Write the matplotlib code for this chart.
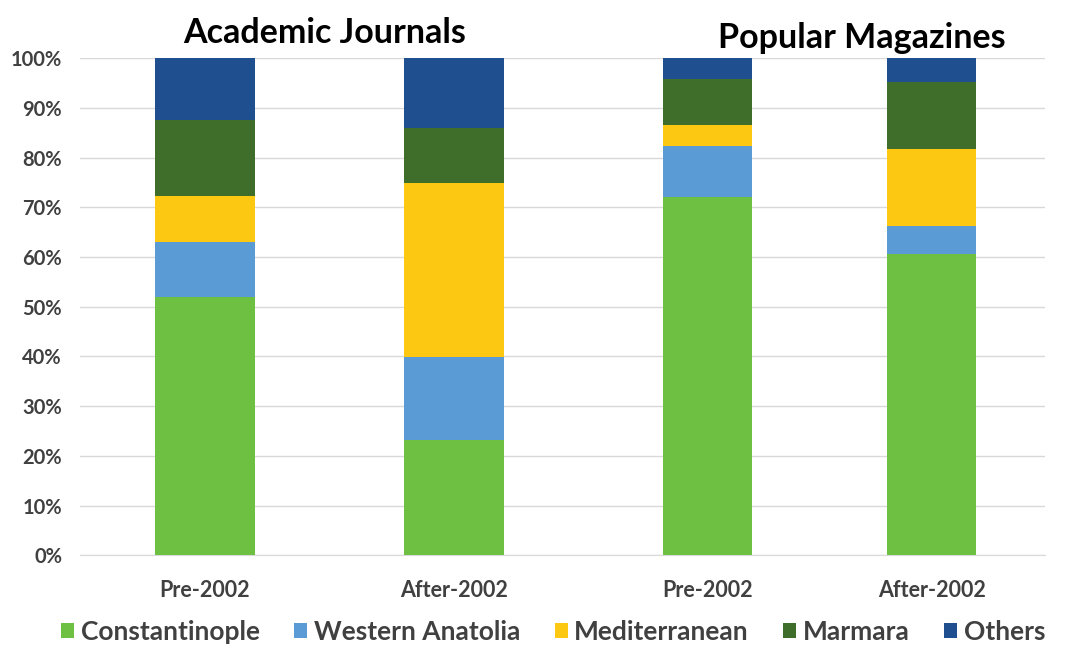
import matplotlib.pyplot as plt
import numpy as np

categories = ['Pre-2002', 'After-2002', 'Pre-2002', 'After-2002']
groups = ['Academic Journals', 'Popular Magazines']
series = ['Constantinople', 'Western Anatolia', 'Mediterranean', 'Marmara', 'Others']
constantinople = [51.9, 23.2, 72.0, 60.7]
western_anatolia = [11.1, 16.7, 10.4, 5.6]
mediterranean = [9.3, 34.9, 4.1, 15.4]
marmara = [15.2, 11.2, 9.4, 13.5]
others = [12.5, 14.0, 4.1, 4.8]

colors = ['#6ec043', '#5b9bd5', '#fcc812', '#3f6e2a', '#1f4f8f']
xpos = np.array([0, 1, 2.02, 2.92])
widths = [0.40, 0.40, 0.357, 0.357]

plt.rcParams['font.family'] = ['Lato', 'DejaVu Sans']

fig = plt.figure(figsize=(10.68, 6.54), dpi=100)
ax = fig.add_axes([0.075, 0.151, 0.903, 0.760])

bottom = np.zeros(4)
for name, vals, c in zip(series, [constantinople, western_anatolia, mediterranean, marmara, others], colors):
    ax.bar(xpos, vals, width=widths, bottom=bottom, color=c, label=name, zorder=3)
    bottom += np.array(vals)

ax.set_xlim(-0.502, 3.373)
ax.set_ylim(0, 100)
ax.set_yticks(range(0, 101, 10))
ax.set_yticklabels([f'{v}%' for v in range(0, 101, 10)])
ax.set_xticks(xpos)
ax.set_xticklabels(categories)
ax.grid(axis='y', color='#d9d9d9', linewidth=1, zorder=0)
for s in ['top', 'right', 'left']:
    ax.spines[s].set_visible(False)
ax.spines['bottom'].set_color('#d9d9d9')
ax.tick_params(length=0, labelcolor='#404040')
ax.tick_params(axis='y', labelsize=14.5, pad=13)
ax.tick_params(axis='x', labelsize=15.5, pad=18)
for t in ax.get_xticklabels() + ax.get_yticklabels():
    t.set_fontweight('bold')

fig.text(325 / 1068, 1 - 33 / 654, groups[0], ha='center', va='center',
         fontsize=24.5, fontweight='bold', color='black')
fig.text(862 / 1068, 1 - 38 / 654, groups[1], ha='center', va='center',
         fontsize=24.5, fontweight='bold', color='black')

fig.legend(loc='center', bbox_to_anchor=(0.518, 1 - 632 / 654), ncol=5, frameon=False,
           prop={'size': 19, 'weight': 'bold'}, handlelength=0.5, handleheight=0.5,
           handletextpad=0.25, columnspacing=1.3, labelcolor='#404040')

fig.savefig('out.png', dpi=100)
